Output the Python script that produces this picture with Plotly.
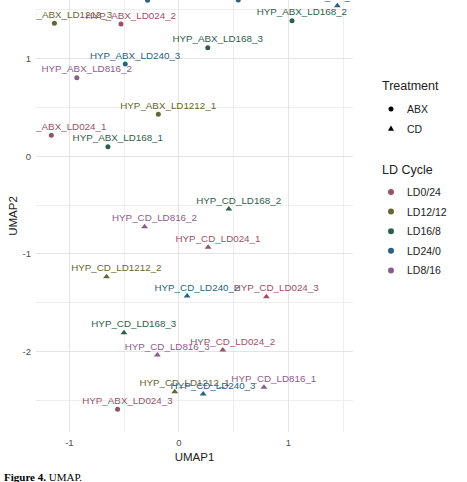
import plotly.graph_objects as go

# ---- data ----
labels = [
    "HYP_ABX_LD024_1", "HYP_ABX_LD024_2", "HYP_ABX_LD024_3",
    "HYP_CD_LD024_1", "HYP_CD_LD024_2", "HYP_CD_LD024_3",
    "HYP_ABX_LD1212_1", "HYP_ABX_LD1212_3", "HYP_CD_LD1212_2", "HYP_CD_LD1212_1",
    "HYP_ABX_LD168_1", "HYP_ABX_LD168_2", "HYP_ABX_LD168_3",
    "HYP_CD_LD168_2", "HYP_CD_LD168_3",
    "HYP_ABX_LD240_3", "HYP_CD_LD240_2", "HYP_CD_LD240_3",
    "HYP_ABX_LD240_1", "HYP_ABX_LD240_2", "HYP_CD_LD240_1",
    "HYP_ABX_LD816_2", "HYP_CD_LD816_2", "HYP_CD_LD816_3", "HYP_CD_LD816_1",
]
umap1 = [
    -1.165, -0.529, -0.560, 0.267, 0.401, 0.799,
    -0.188, -1.137, -0.661, -0.038,
    -0.648, 1.033, 0.264, 0.456, -0.502,
    -0.490, 0.075, 0.222, -0.286, 0.542, 1.447,
    -0.932, -0.313, -0.197, 0.777,
]
umap2 = [
    0.215, 1.355, -2.590, -0.932, -1.983, -1.437,
    0.430, 1.362, -1.233, -2.410,
    0.098, 1.388, 1.112, -0.540, -1.806,
    0.945, -1.430, -2.434, 1.598, 1.599, 1.542,
    0.805, -0.721, -2.034, -2.365,
]
treatment = [
    "ABX", "ABX", "ABX", "CD", "CD", "CD",
    "ABX", "ABX", "CD", "CD",
    "ABX", "ABX", "ABX", "CD", "CD",
    "ABX", "CD", "CD", "ABX", "ABX", "CD",
    "ABX", "CD", "CD", "CD",
]
cycle = [
    "LD0/24", "LD0/24", "LD0/24", "LD0/24", "LD0/24", "LD0/24",
    "LD12/12", "LD12/12", "LD12/12", "LD12/12",
    "LD16/8", "LD16/8", "LD16/8", "LD16/8", "LD16/8",
    "LD24/0", "LD24/0", "LD24/0", "LD24/0", "LD24/0", "LD24/0",
    "LD8/16", "LD8/16", "LD8/16", "LD8/16",
]
cycles = ["LD0/24", "LD12/12", "LD16/8", "LD24/0", "LD8/16"]
treatments = ["ABX", "CD"]
x_ticks = [-1, 0, 1]
y_ticks = [-2, -1, 0, 1]

# ---- styles ----
colors = {
    "LD0/24": "#9C5068",
    "LD12/12": "#676632",
    "LD16/8": "#2D5E4E",
    "LD24/0": "#2A6282",
    "LD8/16": "#8C5A8E",
}
symbols = {"ABX": "circle", "CD": "triangle-up"}
sizes = {"ABX": 5, "CD": 6}
FONT = "Liberation Sans, Arial, sans-serif"
LABEL_DX = 0.09   # text nudge (data units)
LABEL_DY = 0.03

fig = go.Figure()

for c in cycles:
    for t in treatments:
        idx = [i for i in range(len(labels)) if cycle[i] == c and treatment[i] == t]
        if not idx:
            continue
        fig.add_trace(go.Scatter(
            x=[umap1[i] for i in idx], y=[umap2[i] for i in idx],
            mode="markers",
            marker=dict(symbol=symbols[t], size=sizes[t], color=colors[c], line=dict(width=0)),
            showlegend=False, cliponaxis=True, hoverinfo="skip",
        ))
        fig.add_trace(go.Scatter(
            x=[umap1[i] + LABEL_DX for i in idx], y=[umap2[i] + LABEL_DY for i in idx],
            mode="text", text=[labels[i] for i in idx],
            textposition="top center",
            textfont=dict(family=FONT, size=9.8, color=colors[c]),
            showlegend=False, cliponaxis=True, hoverinfo="skip",
        ))

PL, PR, PT, PB = 36, 114, 0, 50
W, H = 467, 482
ph = H - PT - PB
pw = W - PL - PR

def py(pix):
    return (H - PB - pix) / ph

def px(pix):
    return (pix - PL) / pw

# ---- manual legends (titles, keys, labels) ----
annotations = []
shapes = []
KEY_X, TEXT_X, TITLE_X = 391, 405, 380

def add_title(text, ycen):
    annotations.append(dict(
        text=text, xref="paper", yref="paper", x=px(TITLE_X), y=py(ycen),
        xanchor="left", yanchor="middle", showarrow=False,
        font=dict(family=FONT, size=12.5, color="#222222")))

def add_item(text, ycen):
    annotations.append(dict(
        text=text, xref="paper", yref="paper", x=px(TEXT_X), y=py(ycen),
        xanchor="left", yanchor="middle", showarrow=False,
        font=dict(family=FONT, size=10.5, color="#222222")))

def add_circle(ycen, color, r):
    shapes.append(dict(
        type="circle", xref="paper", yref="paper",
        xsizemode="pixel", ysizemode="pixel",
        xanchor=px(KEY_X), yanchor=py(ycen),
        x0=-r, x1=r, y0=-r, y1=r,
        fillcolor=color, line=dict(width=0)))

def add_triangle(ycen, color):
    shapes.append(dict(
        type="path", xref="paper", yref="paper",
        xsizemode="pixel", ysizemode="pixel",
        xanchor=px(KEY_X), yanchor=py(ycen),
        path="M -3,-2.2 L 3,-2.2 L 0,2.9 Z",
        fillcolor=color, line=dict(width=0)))

add_title("Treatment", 86)
add_circle(109, "black", 2.5)
add_item("ABX", 109)
add_triangle(128.5, "black")
add_item("CD", 128.5)

add_title("LD Cycle", 170)
for k, c in enumerate(cycles):
    yc = 192 + 19.6 * k
    add_circle(yc, colors[c], 3)
    add_item(c, yc)

annotations.append(dict(
    text="<b>Figure 4.</b> UMAP.", xref="paper", yref="paper",
    x=px(2), y=py(477.5), xanchor="left", yanchor="middle", showarrow=False,
    font=dict(family="Liberation Serif, Times New Roman, serif", size=11, color="black"),
))

fig.update_layout(
    width=W, height=H,
    margin=dict(l=PL, r=PR, t=PT, b=PB, pad=0),
    paper_bgcolor="white", plot_bgcolor="white",
    font=dict(family=FONT, color="#222222"),
    showlegend=False,
    xaxis=dict(
        range=[-1.305, 1.59], tickvals=x_ticks, ticktext=[str(v) for v in x_ticks],
        showgrid=True, gridcolor="#E4E4E4", gridwidth=1,
        minor=dict(dtick=0.5, tick0=0, showgrid=True, gridcolor="#EEEEEE", gridwidth=0.8),
        zeroline=False, showline=False, ticks="", ticklabelstandoff=3,
        tickfont=dict(size=9.5, color="#4D4D4D", family=FONT),
        title=dict(text="UMAP1", font=dict(size=11.5, color="#222222", family=FONT), standoff=6),
    ),
    yaxis=dict(
        range=[-2.823, 1.600], tickvals=y_ticks, ticktext=[str(v) for v in y_ticks],
        showgrid=True, gridcolor="#E4E4E4", gridwidth=1,
        minor=dict(dtick=0.5, tick0=0, showgrid=True, gridcolor="#EEEEEE", gridwidth=0.8),
        zeroline=False, showline=False, ticks="", ticklabelstandoff=4,
        tickfont=dict(size=9.5, color="#4D4D4D", family=FONT),
        title=dict(text="UMAP2", font=dict(size=11.5, color="#222222", family=FONT), standoff=2),
    ),
    annotations=annotations,
    shapes=shapes,
)

fig.write_html("out.html")
